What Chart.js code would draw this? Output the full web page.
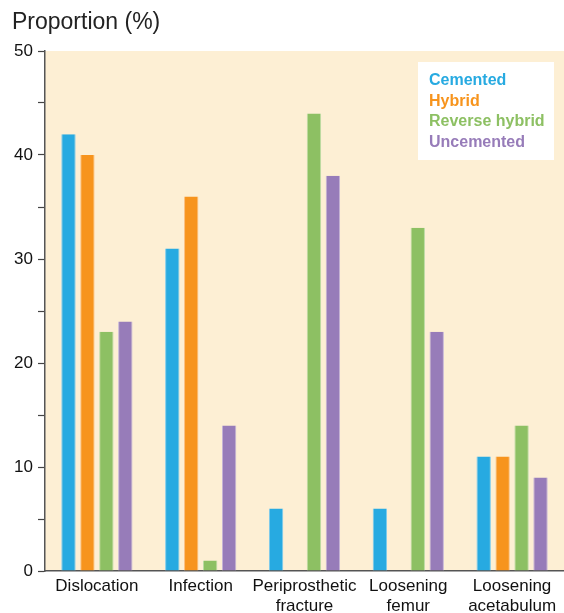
<!DOCTYPE html>
<html>
<head>
<meta charset="utf-8">
<script src="https://cdn.jsdelivr.net/npm/chart.js@4/dist/chart.umd.min.js"></script>
<style>
  html, body { margin: 0; padding: 0; background: #fff; }
  #wrap { width: 564px; height: 613px; position: relative; }
</style>
</head>
<body>
<div id="wrap"><canvas id="chart"></canvas></div>
<script>
// data
const categories = [
    ['Dislocation'],
    ['Infection'],
    ['Periprosthetic', 'fracture'],
    ['Loosening', 'femur'],
    ['Loosening', 'acetabulum']
];
const cemented = [42, 31, 6, 6, 11];
const hybrid = [40, 36, 0, 0, 11];
const reverseHybrid = [23, 1, 44, 33, 14];
const uncemented = [24, 14, 38, 23, 9];
const yTicks = [0, 5, 10, 15, 20, 25, 30, 35, 40, 45, 50];
const yLabelled = [0, 10, 20, 30, 40, 50];

const seriesNames = ['Cemented', 'Hybrid', 'Reverse hybrid', 'Uncemented'];
const seriesColors = ['#27aae1', '#f7941d', '#8dc063', '#977cb9'];
const seriesEdges = ['#7ccbee', '#fbc080', '#bcdba4', '#c4b3d8'];
const seriesValues = [cemented, hybrid, reverseHybrid, uncemented];

const fontFamily = '"Liberation Sans", Arial, Helvetica, sans-serif';

const plotBackground = {
    id: 'plotBackground',
    beforeDraw(chart) {
        const { ctx, chartArea } = chart;
        ctx.save();
        ctx.fillStyle = '#fdefd4';
        ctx.fillRect(chartArea.left, chartArea.top, chartArea.right - chartArea.left, chartArea.bottom - chartArea.top);
        ctx.restore();
    }
};

const titleAndLegend = {
    id: 'titleAndLegend',
    afterDraw(chart) {
        const { ctx } = chart;
        ctx.save();
        // axis title
        ctx.fillStyle = '#222';
        ctx.font = '23px ' + fontFamily;
        ctx.textBaseline = 'middle';
        ctx.textAlign = 'left';
        ctx.fillText('Proportion (%)', 12, 23);
        // legend box
        ctx.fillStyle = '#ffffff';
        ctx.fillRect(418, 62, 136, 98);
        ctx.font = 'bold 16px ' + fontFamily;
        chart.data.datasets.forEach((ds, i) => {
            ctx.fillStyle = ds.backgroundColor;
            ctx.fillText(ds.label, 429, 81 + i * 20.5);
        });
        ctx.restore();
    }
};

new Chart(document.getElementById('chart'), {
    type: 'bar',
    data: {
        labels: categories,
        datasets: seriesNames.map((name, i) => ({
            label: name,
            data: seriesValues[i],
            backgroundColor: seriesColors[i],
            borderColor: seriesEdges[i],
            borderWidth: { left: 1, right: 1, top: 0, bottom: 0 },
            borderSkipped: 'bottom',
            categoryPercentage: 0.73,
            barPercentage: 0.76
        }))
    },
    options: {
        responsive: true,
        maintainAspectRatio: false,
        animation: false,
        layout: { padding: { top: 51, right: 0, left: 0, bottom: 0 } },
        plugins: {
            legend: { display: false },
            tooltip: { enabled: false }
        },
        scales: {
            x: {
                grid: { display: false, drawTicks: false },
                border: { color: '#555', width: 1.5 },
                ticks: {
                    color: '#111',
                    font: { family: fontFamily, size: 17, lineHeight: 1.15 },
                    padding: 6,
                    maxRotation: 0,
                    autoSkip: false
                },
                afterFit(scale) { scale.height = 42; }
            },
            y: {
                min: 0,
                max: 50,
                afterBuildTicks(scale) { scale.ticks = yTicks.map(v => ({ value: v })); },
                grid: { drawOnChartArea: false, tickLength: 7, color: '#444', tickWidth: 1.2 },
                border: { color: '#555', width: 1.5 },
                ticks: {
                    color: '#111',
                    font: { family: fontFamily, size: 17 },
                    padding: 5,
                    callback: v => yLabelled.includes(v) ? String(v) : ''
                },
                afterFit(scale) { scale.width = 45; }
            }
        }
    },
    plugins: [plotBackground, titleAndLegend]
});
</script>
</body>
</html>
